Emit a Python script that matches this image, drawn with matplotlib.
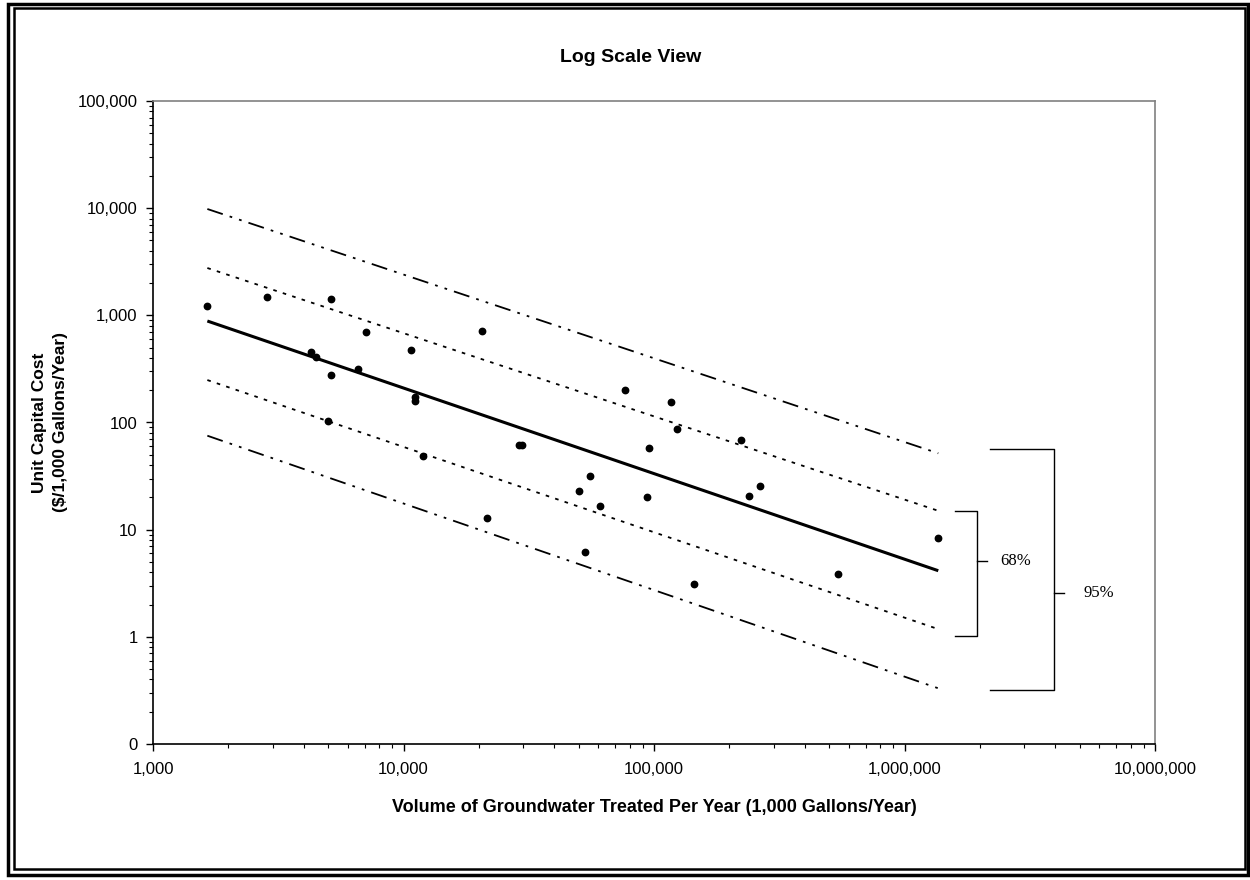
import matplotlib
matplotlib.use("Agg")
import matplotlib.pyplot as plt
from matplotlib.patches import Rectangle
import numpy as np

plt.rcParams['font.family'] = ['Liberation Sans', 'DejaVu Sans']

# ---- data ----
volume = [1648, 2860, 5150, 7104, 10714, 4272, 4461, 6581, 5150, 11115, 11115,
          4982, 11995, 20520, 76820, 116900, 123600, 28910, 29720, 95500,
          55780, 50100, 61040, 93780, 21540, 53120, 222500, 263800, 239400,
          144400, 541100, 1364000]
unit_cost = [1230, 1474, 1421, 699, 472, 455, 406, 318, 276, 173, 159,
             103, 48.7, 719, 201, 156, 86.4, 62.1, 62.1, 58.2,
             31.7, 22.9, 16.6, 20.0, 12.9, 6.15, 69.4, 25.6, 20.6,
             3.11, 3.86, 8.42]

line_x = [1648, 1364000]
fit_y = [885, 4.14]
upper68_y = [2765, 15.0]
lower68_y = [249, 1.18]
upper95_y = [9825, 51.6]
lower95_y = [75.3, 0.331]

yticks = [0.1, 1, 10, 100, 1000, 10000, 100000]
ytick_labels = ["0", "1", "10", "100", "1,000", "10,000", "100,000"]
xticks = [1e3, 1e4, 1e5, 1e6, 1e7]
xtick_labels = ["1,000", "10,000", "100,000", "1,000,000", "10,000,000"]

# bracket annotations (data coords)
br68 = dict(y_top=15.0, y_bot=1.02, x_h=1.59e6, x_v=1.942e6, x_t=2.14e6,
            y_t=5.13, x_txt=2.42e6, label="68%")
br95 = dict(y_top=56.6, y_bot=0.319, x_h=2.19e6, x_v=3.95e6, x_t=4.33e6,
            y_t=2.56, x_txt=5.16e6, label="95%")

W, H = 1250, 880
fig = plt.figure(figsize=(12.5, 8.8), dpi=100)
ax = fig.add_axes([153 / W, 1 - 744 / H, (1155 - 153) / W, (744 - 101) / H])

ax.set_xscale('log')
ax.set_yscale('log')
ax.set_xlim(1e3, 1e7)
ax.set_ylim(0.1, 1e5)

# lines
ax.plot(line_x, fit_y, color='black', lw=2.2, solid_capstyle='butt')
ax.plot(line_x, upper68_y, color='black', lw=1.3, dashes=(2, 3.5))
ax.plot(line_x, lower68_y, color='black', lw=1.3, dashes=(2, 3.5))
dd = (9, 4, 1.5, 4, 1.5, 4)
ax.plot(line_x, upper95_y, color='black', lw=1.3, dashes=dd)
ax.plot(line_x, lower95_y, color='black', lw=1.3, dashes=dd)

# points
ax.plot(volume, unit_cost, 'o', color='black', markersize=4.6, ls='none')

# brackets
for b in (br68, br95):
    ax.plot([b['x_h'], b['x_v'], b['x_v'], b['x_h']],
            [b['y_top'], b['y_top'], b['y_bot'], b['y_bot']],
            color='black', lw=1.0)
    ax.plot([b['x_v'], b['x_t']], [b['y_t'], b['y_t']],
            color='black', lw=1.0)
    ax.text(b['x_txt'], b['y_t'], b['label'], family=['Liberation Serif', 'DejaVu Serif'],
            fontsize=12, va='center', ha='left')

# ticks
ax.set_yticks(yticks)
ax.set_yticklabels(ytick_labels)
ax.set_xticks(xticks)
ax.set_xticklabels(xtick_labels)
ax.tick_params(axis='both', which='major', direction='out', length=5, width=1,
               labelsize=12, colors='black')
ax.tick_params(axis='both', which='minor', direction='out', length=3, width=0.8)
ax.tick_params(axis='x', which='major', pad=8)
ax.tick_params(axis='y', which='major', pad=6)
ax.tick_params(top=False, right=False, which='both')

for s in ('top', 'right'):
    ax.spines[s].set_color('#808080')
    ax.spines[s].set_linewidth(1.2)
for s in ('left', 'bottom'):
    ax.spines[s].set_color('black')
    ax.spines[s].set_linewidth(1.2)

ax.set_xlabel("Volume of Groundwater Treated Per Year (1,000 Gallons/Year)",
              fontsize=13, fontweight='bold', labelpad=16)
ax.set_ylabel("Unit Capital Cost\n($/1,000 Gallons/Year)", fontsize=12.5,
              fontweight='bold', labelpad=7, linespacing=1.5)
fig.text(631 / W, 1 - 57 / H, "Log Scale View", fontsize=14, fontweight='bold',
         ha='center', va='center')

# double border
fig.patches.append(Rectangle((7.5 / W, 5.5 / H), (1248 - 7.5) / W, (876 - 5.5) / H,
                             transform=fig.transFigure, fill=False,
                             edgecolor='black', lw=2.5))
fig.patches.append(Rectangle((13.5 / W, 11.5 / H), (1245 - 13.5) / W, (872 - 11.5) / H,
                             transform=fig.transFigure, fill=False,
                             edgecolor='black', lw=1.8))

fig.savefig("out.png", dpi=100)
